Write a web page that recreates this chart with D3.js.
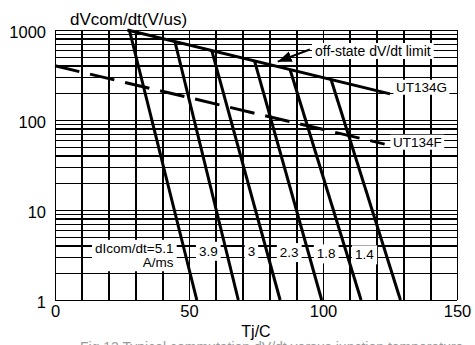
<!DOCTYPE html>
<html>
<head>
<meta charset="utf-8">
<script src="https://cdn.jsdelivr.net/npm/d3@7"></script>
<style>
  body { margin: 0; background: #fff; }
  svg { display: block; font-family: "Liberation Sans", Arial, sans-serif; }
</style>
</head>
<body>
<svg id="chart"></svg>
<script>
// values
const xTicks = [0, 50, 100, 150];
const yTicks = [1, 10, 100, 1000];

// off-state dV/dt limit (UT134G)
const limitTj = [27, 125];
const limitDv = [1000, 195];

// UT134F (dashed)
const ut134fTj = [0, 123];
const ut134fDv = [400, 54];

// commutation curves, one per dIcom/dt
const dIcomLabels = ["5.1", "3.9", "3", "2.3", "1.8", "1.4"];
const dIcomTopTj = [27.8, 44.8, 58.5, 74.4, 87.7, 103];
const dIcomTopDv = [985, 735, 589, 460, 364, 282];
const dIcomEndTj = [52.9, 68.4, 84, 99.5, 114.2, 128.9];
const dIcomEndDv = [1, 1, 1, 1, 1, 1];

const width = 475;
const height = 345;
const margin = { top: 30, right: 18, bottom: 45, left: 55 };
const innerWidth = width - margin.left - margin.right;
const innerHeight = height - margin.top - margin.bottom;

const svg = d3.select("#chart")
  .attr("width", width)
  .attr("height", height);

const g = svg.append("g")
  .attr("transform", `translate(${margin.left},${margin.top})`);

const x = d3.scaleLinear().domain([0, 150]).range([0, innerWidth]);
const y = d3.scaleLog().domain([1, 1000]).range([innerHeight, 0]);

// grid
const gridX = d3.range(0, 151, 10);
const gridY = [];
[1, 10, 100].forEach(d => { for (let k = 1; k < 10; k++) gridY.push(k * d); });
gridY.push(1000);

g.append("g")
  .attr("class", "grid")
  .attr("transform", `translate(0,${innerHeight})`)
  .call(d3.axisBottom(x).tickValues(gridX).tickSize(-innerHeight).tickFormat(""))
  .call(s => s.select(".domain").remove())
  .call(s => s.selectAll("text").remove());

g.append("g")
  .attr("class", "grid")
  .call(d3.axisLeft(y).tickValues(gridY).tickSize(-innerWidth).tickFormat(""))
  .call(s => s.select(".domain").remove())
  .call(s => s.selectAll("text").remove());

g.selectAll(".grid line")
  .attr("stroke", "#000")
  .attr("stroke-width", 1.7)
  .attr("shape-rendering", "crispEdges");

// tick labels
const xAxis = g.append("g")
  .attr("transform", `translate(0,${innerHeight})`)
  .call(d3.axisBottom(x).tickValues(xTicks).tickSize(0).tickPadding(5).tickFormat(d3.format("d")));
xAxis.select(".domain").remove();
xAxis.selectAll("text").attr("font-size", 16.5).attr("font-family", null).attr("fill", "#000");

const yAxis = g.append("g")
  .call(d3.axisLeft(y).tickValues(yTicks).tickSize(0).tickPadding(9).tickFormat(d3.format("d")));
yAxis.select(".domain").remove();
yAxis.selectAll("text").attr("font-size", 16.5).attr("font-family", null)
  .attr("fill", "#000").attr("dy", "0.45em");

// axis titles
svg.append("text")
  .attr("x", 70)
  .attr("y", 25)
  .attr("font-size", 17)
  .text("dVcom/dt(V/us)");

svg.append("text")
  .attr("x", margin.left + x(75))
  .attr("y", 337)
  .attr("text-anchor", "middle")
  .attr("font-size", 16)
  .text("Tj/C");

// lines
const line = d3.line()
  .x(d => x(d[0]))
  .y(d => y(d[1]));

g.append("path")
  .datum(d3.zip(limitTj, limitDv))
  .attr("fill", "none")
  .attr("stroke", "#000")
  .attr("stroke-width", 3)
  .attr("d", line);

g.append("path")
  .datum(d3.zip(ut134fTj, ut134fDv))
  .attr("fill", "none")
  .attr("stroke", "#000")
  .attr("stroke-width", 3)
  .attr("stroke-dasharray", "25,11")
  .attr("d", line);

dIcomLabels.forEach((lab, i) => {
  g.append("path")
    .datum([[dIcomTopTj[i], dIcomTopDv[i]], [dIcomEndTj[i], dIcomEndDv[i]]])
    .attr("fill", "none")
    .attr("stroke", "#000")
    .attr("stroke-width", 3)
    .attr("d", line);
});

// boxed labels
function boxedText(parent, lines, opts) {
  const grp = parent.append("g");
  const rect = grp.append("rect").attr("fill", "#fff");
  lines.forEach(l => {
    grp.append("text")
      .attr("x", l.x)
      .attr("y", l.y)
      .attr("text-anchor", opts.anchor || "start")
      .attr("font-size", opts.size)
      .text(l.t);
  });
  const bb = grp.node().getBBox();
  const px = opts.padX, py = opts.padY;
  rect.attr("x", bb.x - px).attr("y", bb.y - py)
    .attr("width", bb.width + 2 * px).attr("height", bb.height + 2 * py);
  return grp;
}

// arrow to the limit line
const defs = svg.append("defs");
defs.append("marker")
  .attr("id", "arrow")
  .attr("viewBox", "0 -6 15 12")
  .attr("refX", 14)
  .attr("refY", 0)
  .attr("markerWidth", 15)
  .attr("markerHeight", 12)
  .attr("markerUnits", "userSpaceOnUse")
  .attr("orient", "auto")
  .append("path")
  .attr("d", "M0,-5.5L14,0L0,5.5Z")
  .attr("fill", "#000");

g.append("line")
  .attr("x1", x(95.1)).attr("y1", y(607))
  .attr("x2", x(83.1)).attr("y2", y(445))
  .attr("stroke", "#000")
  .attr("stroke-width", 2)
  .attr("marker-end", "url(#arrow)");

boxedText(g, [{ t: "off-state dV/dt limit", x: x(97), y: y(514) }], { size: 14, padX: 3, padY: 0 });
boxedText(g, [{ t: "UT134G", x: x(127.2), y: y(206) }], { size: 13.5, padX: 2.5, padY: 0 });
boxedText(g, [{ t: "UT134F", x: x(126.1), y: y(50.5) }], { size: 13.5, padX: 2.5, padY: 0 });

boxedText(g, [
  { t: "dIcom/dt=5.1", x: x(44.2), y: y(3.3) },
  { t: "A/ms", x: x(44.2), y: y(2.34) }
], { size: 13.5, padX: 3, padY: 1.5, anchor: "end" });

const labelPos = [[57.2, 3.1], [73.3, 3.1], [87.4, 3.0], [101.2, 2.9], [115.4, 2.83]];
dIcomLabels.slice(1).forEach((lab, i) => {
  boxedText(g, [{ t: lab, x: x(labelPos[i][0]), y: y(labelPos[i][1]) }],
    { size: 13.5, padX: 3, padY: 2, anchor: "middle" });
});

// caption (cut off at the bottom edge, as in the source figure)
svg.append("text")
  .attr("x", 80)
  .attr("y", 352)
  .attr("font-size", 14)
  .attr("fill", "#9a9a9a")
  .text("Fig.13 Typical commutation dV/dt versus junction temperature");
</script>
</body>
</html>
